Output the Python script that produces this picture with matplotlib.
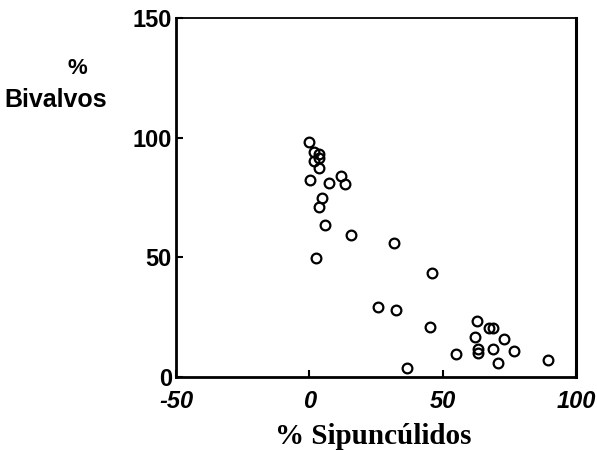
import matplotlib
matplotlib.use("Agg")
import matplotlib.pyplot as plt

# % Sipunculidos vs % Bivalvos
sipunculidos = [-0.3, 1.9, 3.5, 3.8, 1.9, 3.5, 0.3, 7.5, 11.8, 13.2,
                4.8, 3.8, 6.0, 15.7, 31.6, 2.5, 46.1, 25.6, 32.6, 45.1,
                62.7, 67.4, 68.9, 62.3, 72.9, 63.3, 63.3, 68.7, 76.7, 54.9,
                89.6, 70.8, 36.8]
bivalvos = [98.2, 94.1, 93.1, 91.5, 90.1, 87.5, 82.3, 81.1, 84.0, 80.7,
            74.7, 71.0, 63.4, 59.3, 56.1, 49.9, 43.3, 29.4, 27.9, 20.8,
            23.3, 20.6, 20.6, 16.6, 15.8, 11.8, 10.2, 11.8, 11.0, 9.6,
            7.0, 5.9, 3.9]

xticks = [-50, 0, 50, 100]
yticks = [0, 50, 100, 150]

fig = plt.figure(figsize=(5.97, 4.5), dpi=100)
ax = fig.add_axes([176/597, 1-377/450, 400/597, 359/450])

ax.plot(sipunculidos, bivalvos, "o", mfc="none", mec="black", ms=7, mew=1.6)

ax.set_xlim(-50, 100)
ax.set_ylim(0, 150)
ax.set_xticks(xticks)
ax.set_yticks(yticks)
ax.set_xticklabels([str(t) for t in xticks], fontfamily="Liberation Sans",
                   fontweight="bold", fontstyle="italic", fontsize=17)
ax.set_yticklabels([str(t) for t in yticks], fontfamily="Liberation Sans",
                   fontweight="bold", fontsize=17)
ax.tick_params(direction="in", length=5, width=1.5)
ax.tick_params(axis="y", pad=3)
ax.tick_params(axis="x", pad=9)

for side in ["left", "bottom"]:
    ax.spines[side].set_linewidth(2)
ax.spines["right"].set_linewidth(2.2)
ax.spines["top"].set_linewidth(1.3)

fig.text(373/597, 1-437/450, "% Sipuncúlidos", ha="center", va="center",
         fontfamily="Liberation Serif", fontweight="bold", fontsize=21)
fig.text(77/597, 1-68/450, "%", ha="center", va="center",
         fontfamily="Liberation Sans", fontweight="bold", fontsize=16)
fig.text(56/597, 1-100/450, "Bivalvos", ha="center", va="center",
         fontfamily="Liberation Sans", fontweight="bold", fontsize=18)

fig.savefig("out.png", dpi=100)
